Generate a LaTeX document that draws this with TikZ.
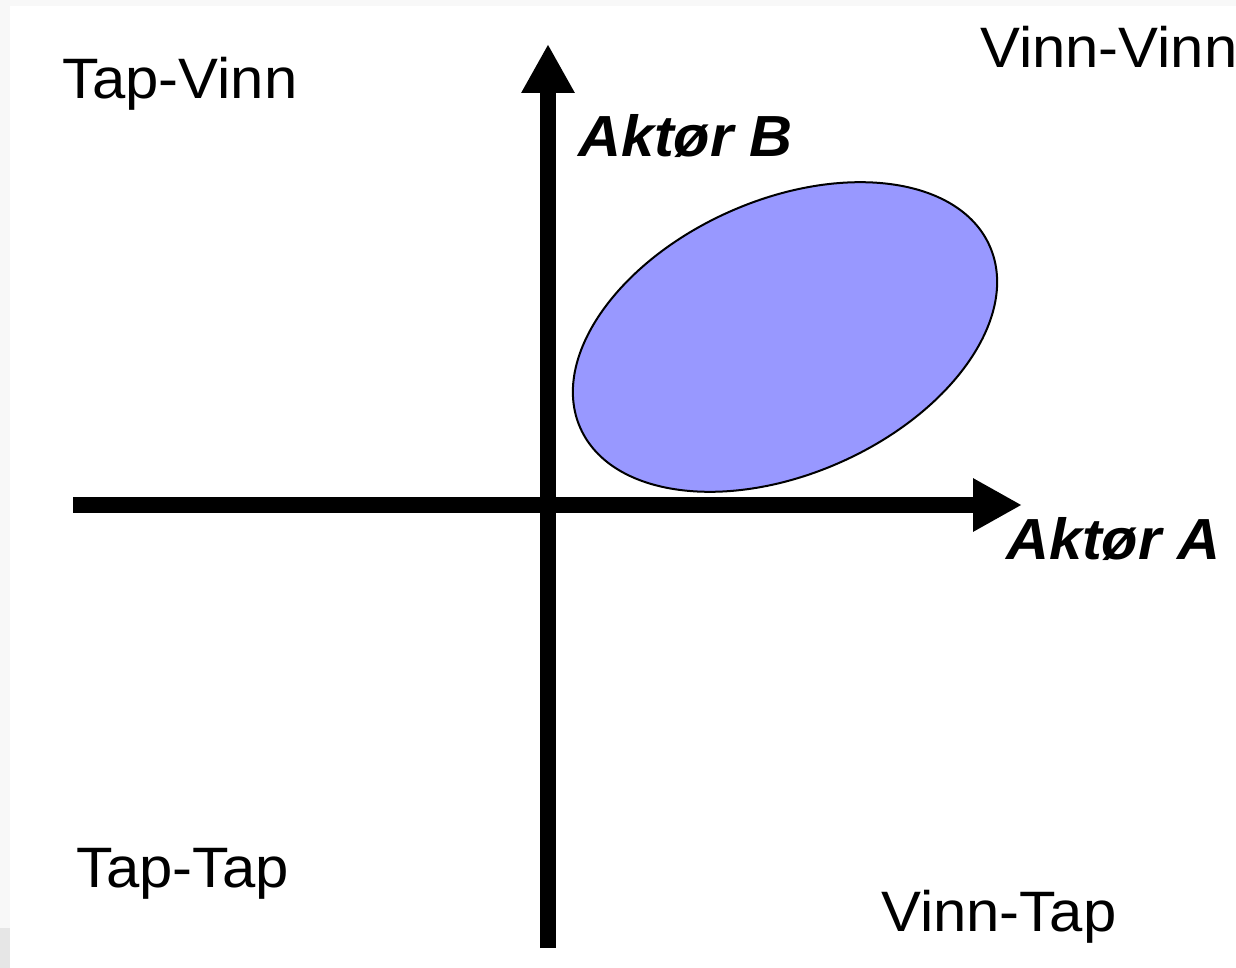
\documentclass[tikz,border=0pt]{standalone}
\usepackage{fontspec}
\setmainfont{Liberation Sans}
\newfontfamily\quadfont[FakeStretch=1.05]{Liberation Sans}
\newfontfamily\axisfont[FakeStretch=1.025]{Liberation Sans}
\usetikzlibrary{arrows.meta}
\definecolor{zonefill}{RGB}{152,152,255}
\definecolor{edgegray}{RGB}{248,248,248}
\definecolor{cornergray}{RGB}{230,230,230}
\tikzset{
  axisline/.style={line width=16pt, line cap=butt,
    -{Triangle[length=49pt, width=50pt]}},
  quadlabel/.style={anchor=base west, inner sep=0pt,
    font=\quadfont\fontsize{57}{68}\selectfont},
  axislabel/.style={anchor=base west, inner sep=0pt,
    font=\axisfont\fontsize{58}{70}\selectfont\bfseries\itshape},
}
\begin{document}
\begin{tikzpicture}[x=1pt, y=-1pt]
  \useasboundingbox (0,0) rectangle (1236,968);
  \clip (0,0) rectangle (1236,968);
  % page background and thin grey margins
  \fill[white] (0,0) rectangle (1236,968);
  \fill[edgegray] (0,0) rectangle (1236,6);
  \fill[edgegray] (0,0) rectangle (10,928);
  \fill[cornergray] (0,928) rectangle (10,968);

  % region of joint gains
  \draw[fill=zonefill, line width=2pt, rotate around={24:(785,337)}]
    (785,337) ellipse [x radius=224, y radius=137];

  % axes
  \coordinate (xstart) at (73,505);
  \coordinate (xend) at (1022,505);
  \coordinate (ystart) at (548,948);
  \coordinate (yend) at (548,44);
  \draw[axisline] (xstart) -- (xend);
  \draw[axisline] (ystart) -- (yend);

  % axis labels
  \node[axislabel] (labB) at (578,157) {Aktør B};
  \node[axislabel] (labA) at (1006,559) {Aktør A};

  % quadrant labels
  \node[quadlabel] (tv) at (62,99) {Tap-Vinn};
  \node[quadlabel] (vv) at (980,68) {Vinn-Vinn};
  \node[quadlabel] (tt) at (76,887) {Tap-Tap};
  \node[quadlabel] (vt) at (881,931) {Vinn-Tap};
\end{tikzpicture}
\end{document}
